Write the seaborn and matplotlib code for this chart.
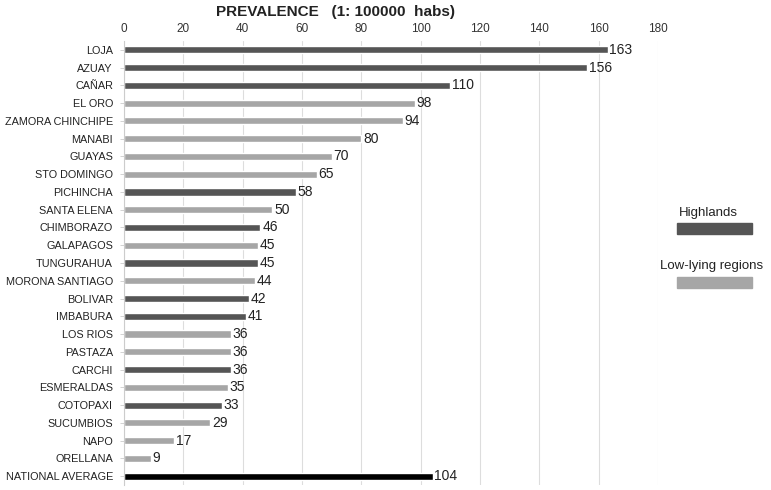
import matplotlib
matplotlib.use("Agg")
import matplotlib.pyplot as plt
from matplotlib.patches import Rectangle
import seaborn as sns
import pandas as pd

regions = ["LOJA", "AZUAY", "CAÑAR", "EL ORO", "ZAMORA CHINCHIPE", "MANABI", "GUAYAS",
           "STO DOMINGO", "PICHINCHA", "SANTA ELENA", "CHIMBORAZO", "GALAPAGOS",
           "TUNGURAHUA", "MORONA SANTIAGO", "BOLIVAR", "IMBABURA", "LOS RIOS", "PASTAZA",
           "CARCHI", "ESMERALDAS", "COTOPAXI", "SUCUMBIOS", "NAPO", "ORELLANA",
           "NATIONAL AVERAGE"]
prevalence = [163, 156, 110, 98, 94, 80, 70, 65, 58, 50, 46, 45, 45, 44, 42, 41, 36, 36,
              36, 35, 33, 29, 17, 9, 104]
zone = ["Highlands", "Highlands", "Highlands", "Low-lying regions", "Low-lying regions",
        "Low-lying regions", "Low-lying regions", "Low-lying regions", "Highlands",
        "Low-lying regions", "Highlands", "Low-lying regions", "Highlands",
        "Low-lying regions", "Highlands", "Highlands", "Low-lying regions",
        "Low-lying regions", "Highlands", "Low-lying regions", "Highlands",
        "Low-lying regions", "Low-lying regions", "Low-lying regions", "National"]
x_ticks = [0, 20, 40, 60, 80, 100, 120, 140, 160, 180]

palette = {"Highlands": "#555555", "Low-lying regions": "#a6a6a6", "National": "#000000"}

df = pd.DataFrame({"region": regions, "value": prevalence, "zone": zone})

sns.set_style("white")
plt.rcParams["font.family"] = ["Liberation Sans", "DejaVu Sans"]

fig = plt.figure(figsize=(7.71, 4.90), dpi=100)
ax = fig.add_axes([124 / 771, 1 - 485 / 490, (658 - 124) / 771, (485 - 41) / 490])

sns.barplot(data=df, x="value", y="region", hue="zone", palette=palette, dodge=False,
            width=0.4, orient="h", ax=ax, legend=False, order=regions)

ax.set_xlim(0, 180)
ax.set_ylim(len(regions) - 0.5, -0.5)
ax.set_xticks(x_ticks)
ax.xaxis.tick_top()
ax.tick_params(axis="x", length=0, labelsize=8.5, colors="#333333", pad=4)
ax.tick_params(axis="y", length=3, width=0.6, color="#cccccc", labelsize=7.8,
               labelcolor="#222222", pad=5, left=True)
ax.set_xlabel("")
ax.set_ylabel("")
ax.grid(axis="x", color="#dddddd", linewidth=0.8)
ax.set_axisbelow(True)
for s in ["top", "right", "bottom"]:
    ax.spines[s].set_visible(False)
ax.spines["left"].set_color("#cccccc")
ax.spines["left"].set_linewidth(0.8)

for i, v in enumerate(prevalence):
    ax.text(v + 0.6, i, str(v), va="center", ha="left", fontsize=10, color="#222222")

fig.text(335 / 771, 1 - 12 / 490, "PREVALENCE   (1: 100000  habs)", ha="center",
         va="center", fontsize=11, fontweight="bold", color="#222222")

# legend (manual, label above swatch)
fig.text(708 / 771, 1 - 213 / 490, "Highlands", ha="center", va="center", fontsize=9.5,
         color="#222222")
fig.patches.append(Rectangle((677 / 771, 1 - 234 / 490), 75 / 771, 11 / 490,
                             transform=fig.transFigure, color=palette["Highlands"]))
fig.text(712 / 771, 1 - 266 / 490, "Low-lying regions", ha="center", va="center",
         fontsize=9.5, color="#222222")
fig.patches.append(Rectangle((677 / 771, 1 - 288 / 490), 75 / 771, 11 / 490,
                             transform=fig.transFigure, color=palette["Low-lying regions"]))

fig.savefig("out.png", dpi=100)
